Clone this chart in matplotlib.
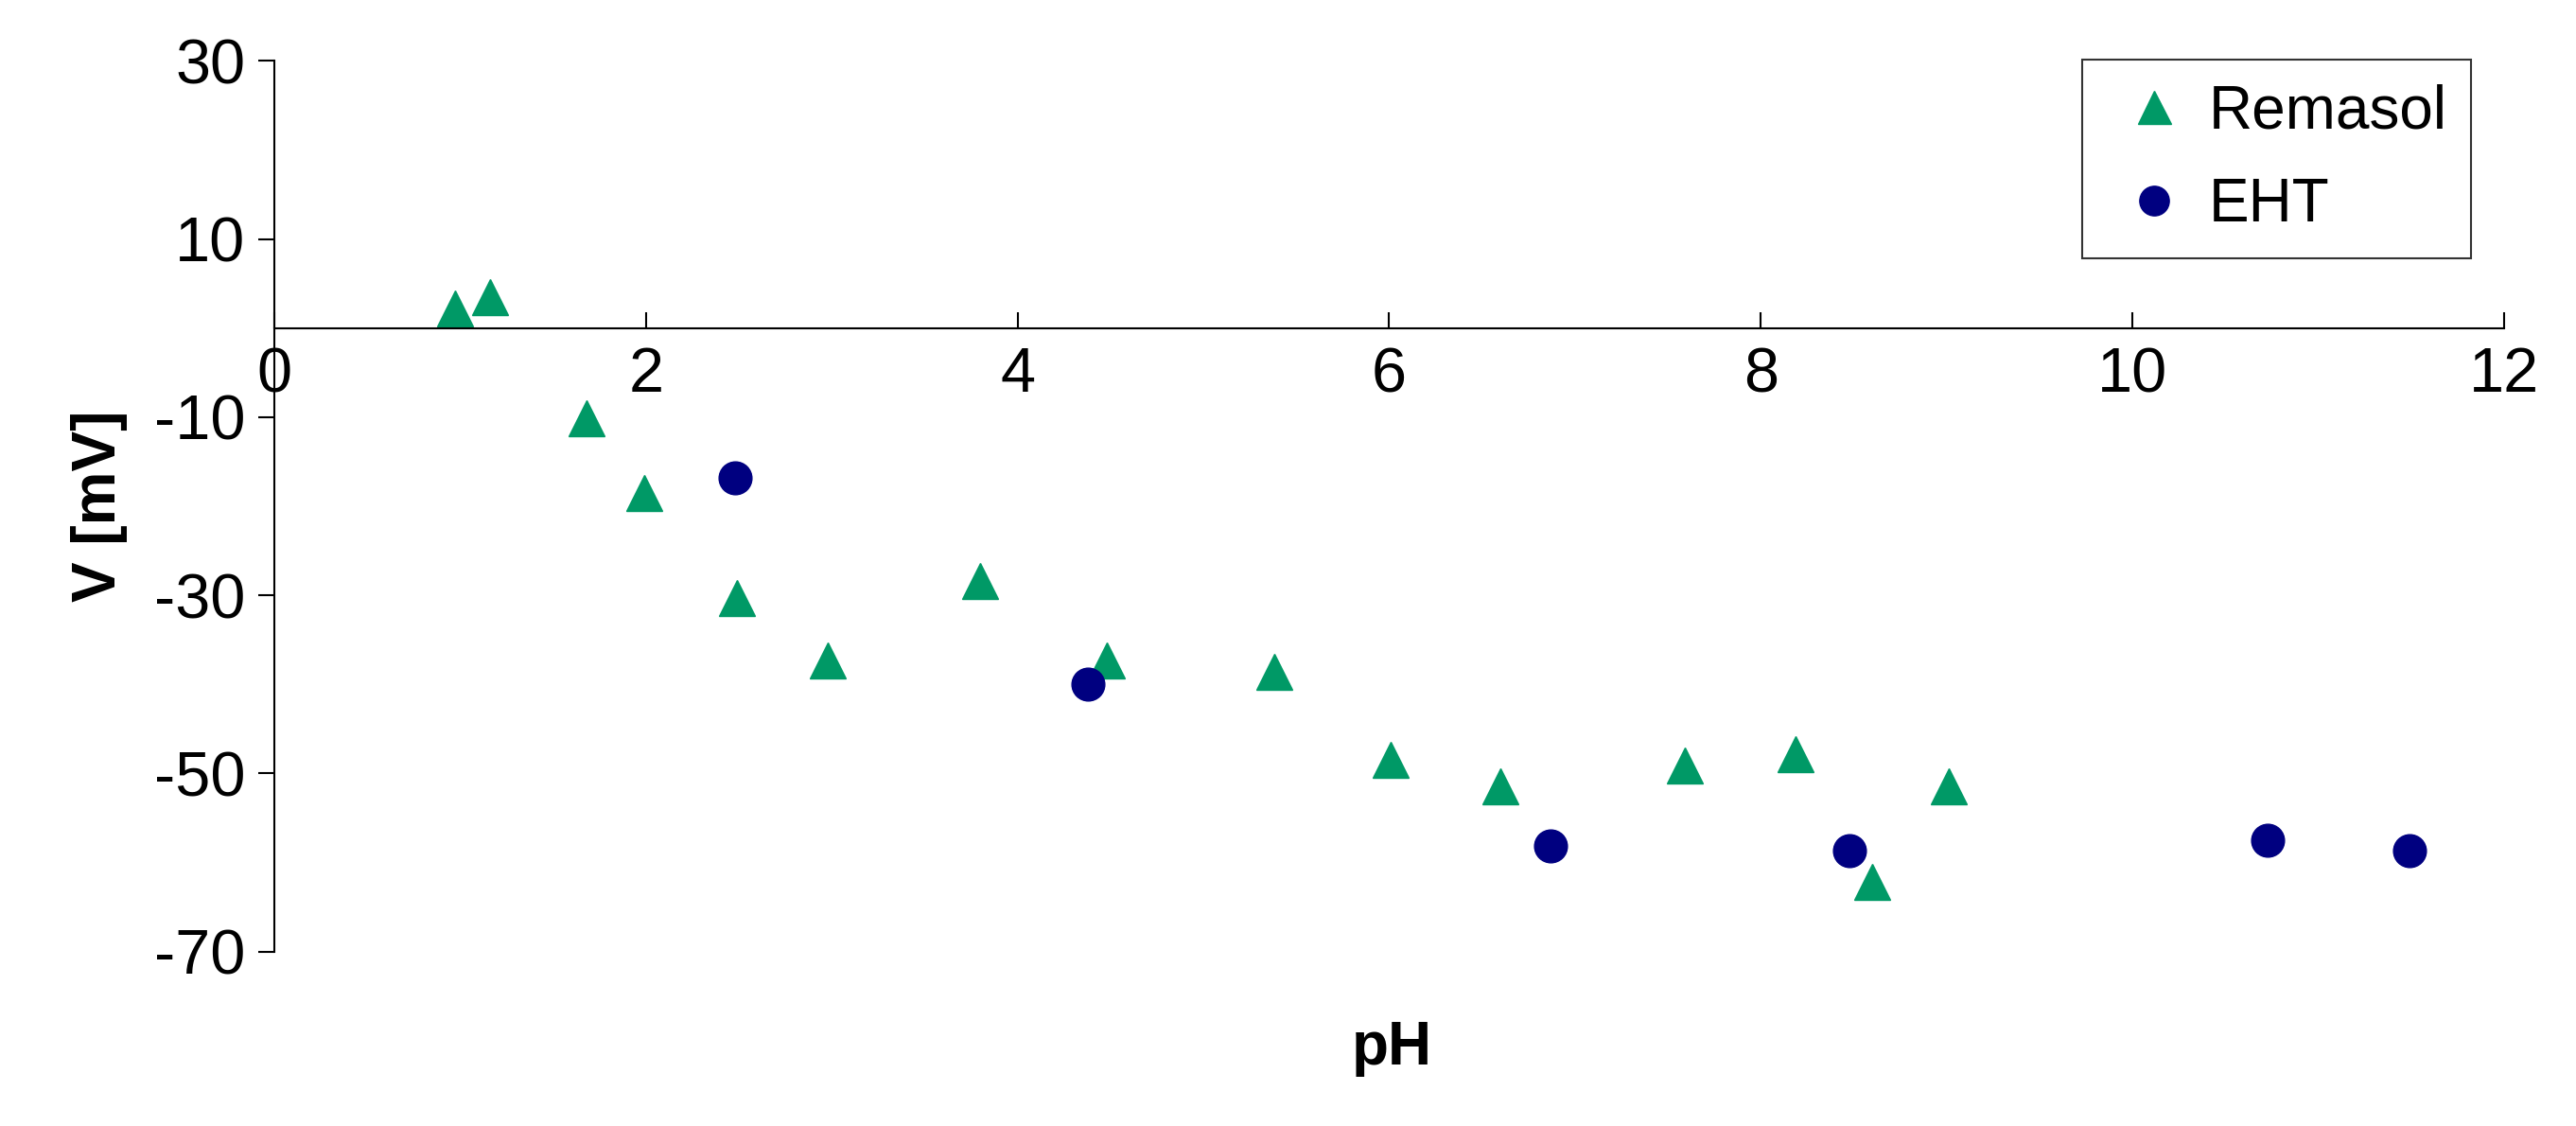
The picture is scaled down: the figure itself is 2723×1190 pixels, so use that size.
import matplotlib
matplotlib.use("Agg")
import matplotlib.pyplot as plt

plt.rcParams['font.family'] = ['Liberation Sans', 'DejaVu Sans']
plt.rcParams['axes.unicode_minus'] = False

rem_x = [0.97, 1.16, 1.68, 1.99, 2.49, 2.98, 3.80, 4.48, 5.38, 6.01, 6.60, 7.59, 8.19, 8.60, 9.01]
rem_y = [2.2, 3.5, -10.1, -18.5, -30.3, -37.3, -28.4, -37.3, -38.6, -48.5, -51.5, -49.1, -47.8, -62.2, -51.5]
eht_x = [2.48, 4.38, 6.87, 8.48, 10.73, 11.49]
eht_y = [-16.8, -40.0, -58.1, -58.7, -57.5, -58.7]
xticks = [0, 2, 4, 6, 8, 10, 12]
yticks = [30, 10, -10, -30, -50, -70]

fig = plt.figure(figsize=(27.23, 11.9), dpi=100)
ax = fig.add_axes([0.1065, 0.155, 0.8655, 0.791])
ax.plot(rem_x, rem_y, linestyle='none', marker='^', markersize=28, color='#009966', label='Remasol')
ax.plot(eht_x, eht_y, linestyle='none', marker='o', markersize=25, color='#000080', label='EHT')
ax.set_xlim(0, 12)
ax.set_ylim(-70, 30)
ax.set_xticks(xticks)
ax.set_yticks(yticks)
ax.spines['top'].set_visible(False)
ax.spines['right'].set_visible(False)
ax.spines['bottom'].set_position(('data', 0))
for s in ax.spines.values():
    s.set_linewidth(1.5)
ax.tick_params(axis='x', direction='in', length=12, width=1.5, labelsize=48, pad=14)
ax.tick_params(axis='y', direction='out', length=12, width=1.5, labelsize=48, pad=10)
ax.set_ylabel('V [mV]', fontsize=46, fontweight='bold', labelpad=20)
fig.text(0.5405, 0.055, 'pH', fontsize=46, fontweight='bold', ha='center')
leg = ax.legend(loc='upper right', bbox_to_anchor=(0.999, 1.035), fontsize=46, frameon=True,
                fancybox=False, edgecolor='black', borderpad=0.4, labelspacing=0.6,
                handletextpad=0.1, handlelength=1.6, markerscale=0.9)
leg.get_frame().set_linewidth(1.5)
fig.savefig('out.png', dpi=100)
